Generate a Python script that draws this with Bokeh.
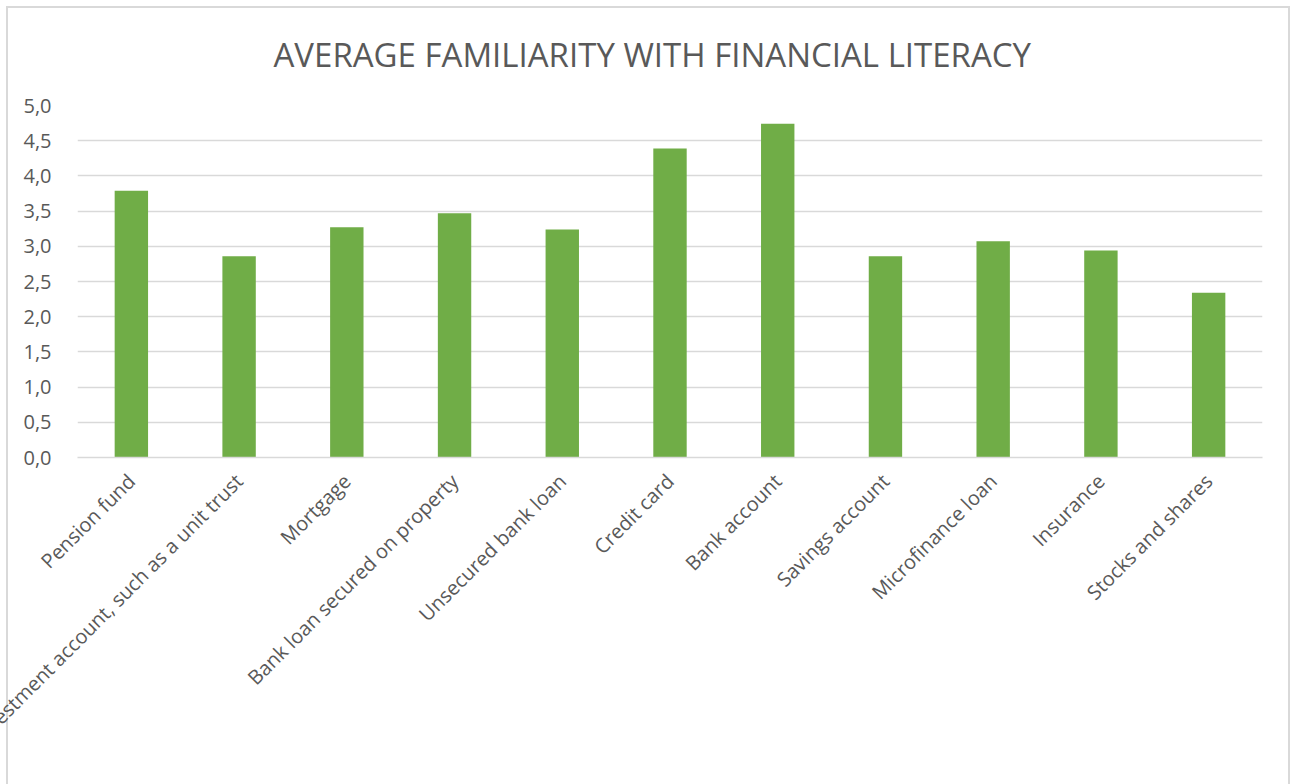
from bokeh.plotting import figure
from bokeh.models import FactorRange, Range1d, Title, FixedTicker, ColumnDataSource
from bokeh.embed import file_html
from bokeh.resources import INLINE
import math

title_text = "AVERAGE FAMILIARITY WITH FINANCIAL LITERACY"
categories = [
    "Pension fund",
    "Investment account, such as a unit trust",
    "Mortgage",
    "Bank loan secured on property",
    "Unsecured bank loan",
    "Credit card",
    "Bank account",
    "Savings account",
    "Microfinance loan",
    "Insurance",
    "Stocks and shares",
]
values = [3.79, 2.86, 3.27, 3.47, 3.24, 4.39, 4.74, 2.86, 3.07, 2.94, 2.34]
y_ticks = [0.0, 0.5, 1.0, 1.5, 2.0, 2.5, 3.0, 3.5, 4.0, 4.5, 5.0]
y_tick_labels = ["0,0", "0,5", "1,0", "1,5", "2,0", "2,5", "3,0", "3,5", "4,0", "4,5", "5,0"]

FONT = "Open Sans"
TXT = "#595959"
GRID = "#d9d9d9"

W, H = 1294, 784
L, R, T, B = 77, 32, 105, 327

p = figure(
    x_range=FactorRange(factors=categories, range_padding=0),
    y_range=Range1d(0, 5),
    width=W, height=H,
    output_backend="svg", toolbar_location=None, title=None,
    min_border_left=L, min_border_right=R, min_border_top=T, min_border_bottom=B,
)
p.outline_line_color = None
p.background_fill_color = "white"
p.border_fill_color = None
g = "linear-gradient(#d9d9d9, #d9d9d9)"
p.styles = {
    "background-color": "white",
    "background-image": f"{g}, {g}, {g}",
    "background-repeat": "no-repeat",
    "background-position": "6px 6px, 6px 6px, 1288px 6px",
    "background-size": "1284px 2px, 2px 800px, 2px 800px",
}

src = ColumnDataSource(dict(cat=categories, val=values))
p.vbar(x="cat", top="val", width=0.31, source=src, fill_color="#70AD47", line_color=None)

p.xgrid.grid_line_color = None
p.ygrid.grid_line_color = GRID
p.ygrid.grid_line_width = 1.5
p.yaxis.ticker = FixedTicker(ticks=y_ticks)
p.yaxis.major_label_overrides = {t: s for t, s in zip(y_ticks, y_tick_labels)}
p.yaxis.axis_line_color = None
p.yaxis.major_tick_line_color = None
p.yaxis.minor_tick_line_color = None
p.yaxis.major_label_standoff = 20
p.yaxis.major_label_text_font = FONT
p.yaxis.major_label_text_font_size = "20px"
p.yaxis.major_label_text_color = TXT

p.xaxis.axis_line_color = GRID
p.xaxis.axis_line_width = 1.5
p.xaxis.major_tick_line_color = None
p.xaxis.minor_tick_line_color = None
p.xaxis.major_label_orientation = math.pi / 4
p.xaxis.major_label_standoff = 14
p.xaxis.major_label_text_font = FONT
p.xaxis.major_label_text_font_size = "20px"
p.xaxis.major_label_text_color = TXT

t = Title(
    text=title_text, align="left", text_font=FONT, text_font_size="33px",
    text_color=TXT, text_font_style="normal", standoff=57, offset=273 - L,
)
p.add_layout(t, "above")

open("out.html", "w").write(file_html(p, INLINE))
